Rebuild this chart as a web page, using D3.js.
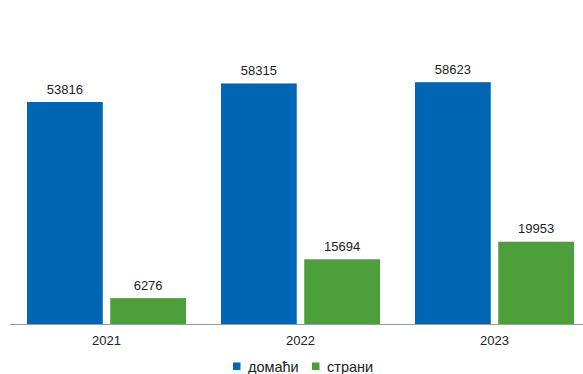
<!DOCTYPE html>
<html><head><meta charset="utf-8">
<script src="https://cdn.jsdelivr.net/npm/d3@7"></script>
<style>body{margin:0;background:#fff}svg{display:block;font-family:"Liberation Sans",Arial,sans-serif}</style>
</head><body><svg id="c" width="583" height="374"></svg>
<script>
const categories = ["2021", "2022", "2023"];
const seriesNames = ["домаћи", "страни"];
const domaci = [53816, 58315, 58623];
const strani = [6276, 15694, 19953];
const colors = ["#0066b3", "#4c9f3b"];

const svg = d3.select("#c");
const baseY = 324;
const x = d3.scaleBand().domain(categories).range([9.5, 591.5]).paddingInner(0).paddingOuter(0);
const xs = d3.scaleBand().domain([0,1]).range([17.5, x.bandwidth()-17.5]).paddingInner(0.09);
const y = d3.scaleLinear().domain([0, 60000]).range([baseY, baseY - 247.5]);

const series = [domaci, strani];
series.forEach((vals, si) => {
  const g = svg.append("g");
  g.selectAll("rect").data(vals).join("rect")
    .attr("x", (d,i) => x(categories[i]) + xs(si))
    .attr("y", d => y(d))
    .attr("width", xs.bandwidth())
    .attr("height", d => y(0) - y(d))
    .attr("fill", colors[si]);
  g.selectAll("text").data(vals).join("text")
    .attr("x", (d,i) => x(categories[i]) + xs(si) + xs.bandwidth()/2)
    .attr("y", d => y(d) - 8.5)
    .attr("text-anchor", "middle")
    .attr("font-size", 13).attr("fill", "#222")
    .text(d => d);
});

const ax = svg.append("g").attr("transform", `translate(0,${baseY})`)
  .call(d3.axisBottom(x).tickSize(0).tickPadding(0));
ax.select(".domain").remove();
svg.append("line").attr("x1", 10).attr("x2", 583).attr("y1", baseY+0.5).attr("y2", baseY+0.5)
  .attr("stroke", "#9a9a9a").attr("stroke-width", 1);
ax.selectAll("text").attr("dy", null).attr("y", 21).attr("font-size", 13)
  .attr("fill", "#222").attr("font-family", "Liberation Sans, Arial, sans-serif");

const legX = [233, 312];
const leg = svg.append("g");
seriesNames.forEach((n, i) => {
  leg.append("rect").attr("x", legX[i]).attr("y", 362.5).attr("width", 7.5).attr("height", 7.5).attr("fill", colors[i]);
  leg.append("text").attr("x", legX[i] + 15).attr("y", 372).attr("font-size", 14.5).attr("fill", "#222").text(n);
});
</script></body></html>
